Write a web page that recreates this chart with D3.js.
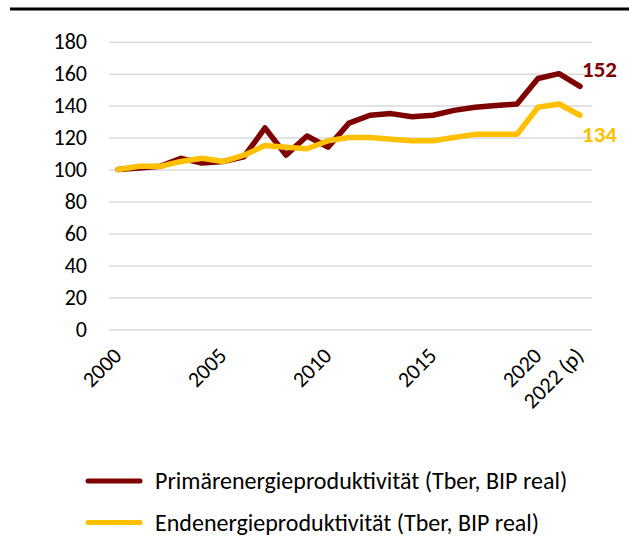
<!DOCTYPE html>
<html>
<head>
<meta charset="utf-8">
<script src="https://cdn.jsdelivr.net/npm/d3@7"></script>
<style>
  body { margin: 0; background: #fff; }
  text { font-family: Carlito, Calibri, Lato, sans-serif; fill: #000; }
</style>
</head>
<body>
<script>
var years = ["2000","2001","2002","2003","2004","2005","2006","2007","2008","2009","2010",
             "2011","2012","2013","2014","2015","2016","2017","2018","2019","2020","2021","2022"];
var tickYears = ["2000","2005","2010","2015","2020","2022"];
var tickNames = { "2022": "2022 (p)" };
var primaer = [100,101,102,107,104,105,108,126,109,121,114,129,134,135,133,134,137,139,140,141,157,160,152];
var endenergie = [100,102,102,105,107,105,109,115,114,113,118,120,120,119,118,118,120,122,122,122,139,141,134];
var yTicks = [0,20,40,60,80,100,120,140,160,180];
var seriesNames = ["Primärenergieproduktivität (Tber, BIP real)", "Endenergieproduktivität (Tber, BIP real)"];
var colors = ["#7f0000", "#ffc000"];

var W = 629, H = 547;
var plotLeft = 109, plotRight = 592, plotTop = 41.7, plotBottom = 329.3;

var svg = d3.select("body").append("svg")
    .attr("width", W)
    .attr("height", H);

// top rule
svg.append("line")
    .attr("x1", 10).attr("x2", W)
    .attr("y1", 9).attr("y2", 9)
    .attr("stroke", "#000")
    .attr("stroke-width", 3);

var x = d3.scalePoint().domain(years).range([plotLeft - 1.5, plotRight - 1.5]).padding(0.5);
var y = d3.scaleLinear().domain([0, 180]).range([plotBottom, plotTop]);

// y axis with gridlines
var yAxis = svg.append("g")
    .attr("transform", "translate(" + plotLeft + ",0)")
    .call(d3.axisLeft(y).tickValues(yTicks).tickSize(-(plotRight - plotLeft)).tickPadding(22));
yAxis.select(".domain").remove();
yAxis.selectAll(".tick line").attr("stroke", "#d9d9d9").attr("stroke-width", 1.5);
yAxis.selectAll(".tick text").attr("font-size", 22).attr("font-family", "Carlito, Calibri, Lato, sans-serif").attr("fill", "#000");

// x labels, rotated
svg.append("g").selectAll("text")
    .data(tickYears)
    .enter()
    .append("text")
    .attr("transform", function (d) { return "translate(" + (x(d) + 5) + ",357) rotate(-45)"; })
    .attr("text-anchor", "end")
    .attr("font-size", 22)
    .text(function (d) { return tickNames[d] || d; });

var line = d3.line()
    .x(function (d, i) { return x(years[i]); })
    .y(function (d) { return y(d); });

[primaer, endenergie].forEach(function (s, k) {
    svg.append("path")
        .datum(s)
        .attr("d", line)
        .attr("fill", "none")
        .attr("stroke", colors[k])
        .attr("stroke-width", 5.5)
        .attr("stroke-linejoin", "round")
        .attr("stroke-linecap", "round");
});

// end value labels
var last = years.length - 1;
svg.append("text")
    .attr("x", x(years[last]) + 2)
    .attr("y", y(primaer[last]) - 9.5)
    .attr("font-size", 23)
    .attr("font-weight", "bold")
    .style("fill", colors[0])
    .text(primaer[last]);
svg.append("text")
    .attr("x", x(years[last]) + 2)
    .attr("y", y(endenergie[last]) + 26.5)
    .attr("font-size", 23)
    .attr("font-weight", "bold")
    .style("fill", colors[1])
    .text(endenergie[last]);

// legend
var legend = svg.append("g").selectAll("g")
    .data(seriesNames)
    .enter()
    .append("g")
    .attr("transform", function (d, i) { return "translate(0," + (481 + i * 41.5) + ")"; });
legend.append("line")
    .attr("x1", 88).attr("x2", 140)
    .attr("stroke", function (d, i) { return colors[i]; })
    .attr("stroke-width", 5)
    .attr("stroke-linecap", "round");
legend.append("text")
    .attr("x", 155)
    .attr("dy", "0.35em")
    .attr("font-size", 24)
    .text(function (d) { return d; });
</script>
</body>
</html>
